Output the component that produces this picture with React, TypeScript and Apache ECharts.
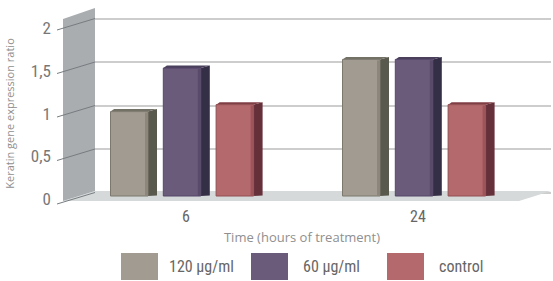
import React, { useEffect, useRef } from "react";
import * as echarts from "echarts";

// ---- data ----
const categories = ["6", "24"];
const seriesNames = ["120 µg/ml", "60 µg/ml", "control"];
const values120 = [0.97, 1.57];
const values60 = [1.47, 1.57];
const valuesControl = [1.05, 1.05];
const yTicks = [0, 0.5, 1, 1.5, 2];
const yTickLabels = ["0", "0,5", "1", "1,5", "2"];
const xTitle = "Time (hours of treatment)";
const yTitle = "Keratin gene expression ratio";

const NARROW = "'Liberation Sans Narrow', 'Arial Narrow', 'Roboto Condensed', sans-serif";
const OPEN = "'Open Sans', 'Noto Sans', sans-serif";

const palettes = [
  { front: "#a29b91", edge: "#8c867c", side: "#5a594e", top: "#737065", stroke: "#7d786e" },
  { front: "#6b5b7b", edge: "#584a68", side: "#352e47", top: "#4b405c", stroke: "#54466a" },
  { front: "#b4696c", edge: "#9c5558", side: "#65303a", top: "#7f3d44", stroke: "#924f53" },
];

function makeBarRender(i: number) {
  return (params: any, api: any) => {
    const cat = api.value(0);
    const v = api.value(1);
    const top = api.coord([cat, v]);
    const base = api.coord([cat, 0]);
    const p = palettes[i];
    const w = 37.5;
    const d = 9;
    const dh = 2.5;
    const x0 = base[0] - 75.5 + i * 52.8;
    const yt = top[1];
    const yb = base[1];
    return {
      type: "group",
      children: [
        {
          type: "polygon",
          shape: { points: [[x0 + w, yt], [x0 + w + d, yt - dh], [x0 + w + d, yb - 0.5], [x0 + w, yb]] },
          style: { fill: p.side },
        },
        {
          type: "polygon",
          shape: { points: [[x0, yt], [x0 + d * 0.4, yt - dh], [x0 + w + d, yt - dh], [x0 + w, yt]] },
          style: { fill: p.top },
        },
        {
          type: "rect",
          shape: { x: x0, y: yt, width: w, height: yb - yt },
          style: { fill: p.front, stroke: p.stroke, lineWidth: 1 },
        },
        {
          type: "rect",
          shape: { x: x0 + w - 3, y: yt + 1, width: 3, height: yb - yt - 1 },
          style: { fill: p.edge },
        },
      ],
    };
  };
}

export default function App() {
  const ref = useRef<HTMLDivElement>(null);
  useEffect(() => {
    if (!ref.current) return;
    const chart = echarts.init(ref.current, undefined, { renderer: "svg" });
    const seriesData = [values120, values60, valuesControl];

    const option: any = {
      animation: false,
      backgroundColor: "#ffffff",
      grid: [
        // back wall
        { left: 95, top: 18.5, width: 456, height: 174 },
        // bar plane
        { left: 70, top: 22, width: 464, height: 174 },
        // front axis
        { left: 63, top: 28, width: 10, height: 171 },
      ],
      xAxis: [
        { gridIndex: 0, type: "value", min: 0, max: 1, show: false },
        {
          gridIndex: 1,
          type: "category",
          data: categories,
          axisLine: { show: false },
          axisTick: { show: false },
          axisLabel: { margin: 12, fontSize: 16, color: "#666", fontFamily: NARROW },
          name: xTitle,
          nameLocation: "middle",
          nameGap: 34,
          nameTextStyle: { fontFamily: OPEN, fontSize: 13, color: "#8f8f8f" },
        },
        { gridIndex: 2, type: "value", min: 0, max: 1, show: false },
      ],
      yAxis: [
        {
          gridIndex: 0,
          type: "value",
          min: 0,
          max: 2,
          interval: 0.5,
          axisLine: { show: false },
          axisTick: { show: false },
          axisLabel: { show: false },
          splitLine: { show: true, lineStyle: { color: "#bcbcbc", width: 1.5 } },
        },
        { gridIndex: 1, type: "value", min: 0, max: 2, show: false },
        {
          gridIndex: 2,
          type: "value",
          min: 0,
          max: 2,
          interval: 0.5,
          axisLine: { show: false },
          axisTick: { show: false },
          splitLine: { show: false },
          axisLabel: {
            margin: 12,
            fontSize: 17,
            color: "#777",
            fontFamily: NARROW,
            formatter: (v: number) => {
              const idx = yTicks.indexOf(v);
              return idx >= 0 ? yTickLabels[idx] : "";
            },
          },
          name: yTitle,
          nameLocation: "middle",
          nameRotate: 90,
          nameGap: 48,
          nameTextStyle: { fontFamily: OPEN, fontSize: 11, color: "#8f8f8f" },
        },
      ],
      legend: [0, 1, 2].map((i) => ({
        data: [seriesNames[i]],
        left: [121, 251, 387][i],
        top: 253,
        padding: 0,
        itemWidth: 37,
        itemHeight: 27,
        icon: "rect",
        selectedMode: false,
        textStyle: {
          fontSize: 16,
          color: "#666",
          fontFamily: NARROW,
          padding: [8, 0, 0, i === 0 ? 6 : 10],
        },
      })),
      series: [
        {
          type: "custom",
          name: "floorwall",
          xAxisIndex: 0,
          yAxisIndex: 0,
          silent: true,
          data: [[0, 0]],
          renderItem: (params: any, api: any) => {
            const b2 = api.coord([0, 2]);
            const b0 = api.coord([0, 0]);
            const r0 = api.coord([1, 0]);
            return {
              type: "group",
              children: [
                {
                  type: "polygon",
                  shape: {
                    points: [
                      [b0[0], b0[1] - 1.5],
                      [r0[0], r0[1] - 1.5],
                      [r0[0] - 32, r0[1] + 8.5],
                      [b0[0] - 32, b0[1] + 8.5],
                    ],
                  },
                  style: { fill: "#d5d9d9" },
                },
                {
                  type: "polygon",
                  shape: {
                    points: [
                      [b2[0], b2[1] - 10.5],
                      [b0[0], b0[1] - 1.5],
                      [b0[0] - 32, b0[1] + 8.5],
                      [b2[0] - 32, b2[1] + 0.5],
                    ],
                  },
                  style: { fill: "#a9adb0" },
                },
              ],
            };
          },
        },
        {
          type: "custom",
          name: "wallticks",
          xAxisIndex: 0,
          yAxisIndex: 0,
          silent: true,
          data: yTicks.map((t) => [0, t]),
          renderItem: (params: any, api: any) => {
            const b = api.coord([0, api.value(1)]);
            return {
              type: "line",
              shape: { x1: b[0] - 38, y1: b[1] + 11.5, x2: b[0], y2: b[1] },
              style: { stroke: "#777c80", lineWidth: 1 },
            };
          },
        },
        ...[0, 1, 2].map((i) => ({
          type: "custom",
          name: seriesNames[i],
          xAxisIndex: 1,
          yAxisIndex: 1,
          itemStyle: { color: palettes[i].front },
          data: seriesData[i].map((v, k) => [k, v]),
          renderItem: makeBarRender(i),
        })),
      ],
    };
    chart.setOption(option);
    return () => chart.dispose();
  }, []);

  return (
    <div
      ref={ref}
      style={{ position: "fixed", left: 0, top: 0, width: 553, height: 281 }}
    />
  );
}
